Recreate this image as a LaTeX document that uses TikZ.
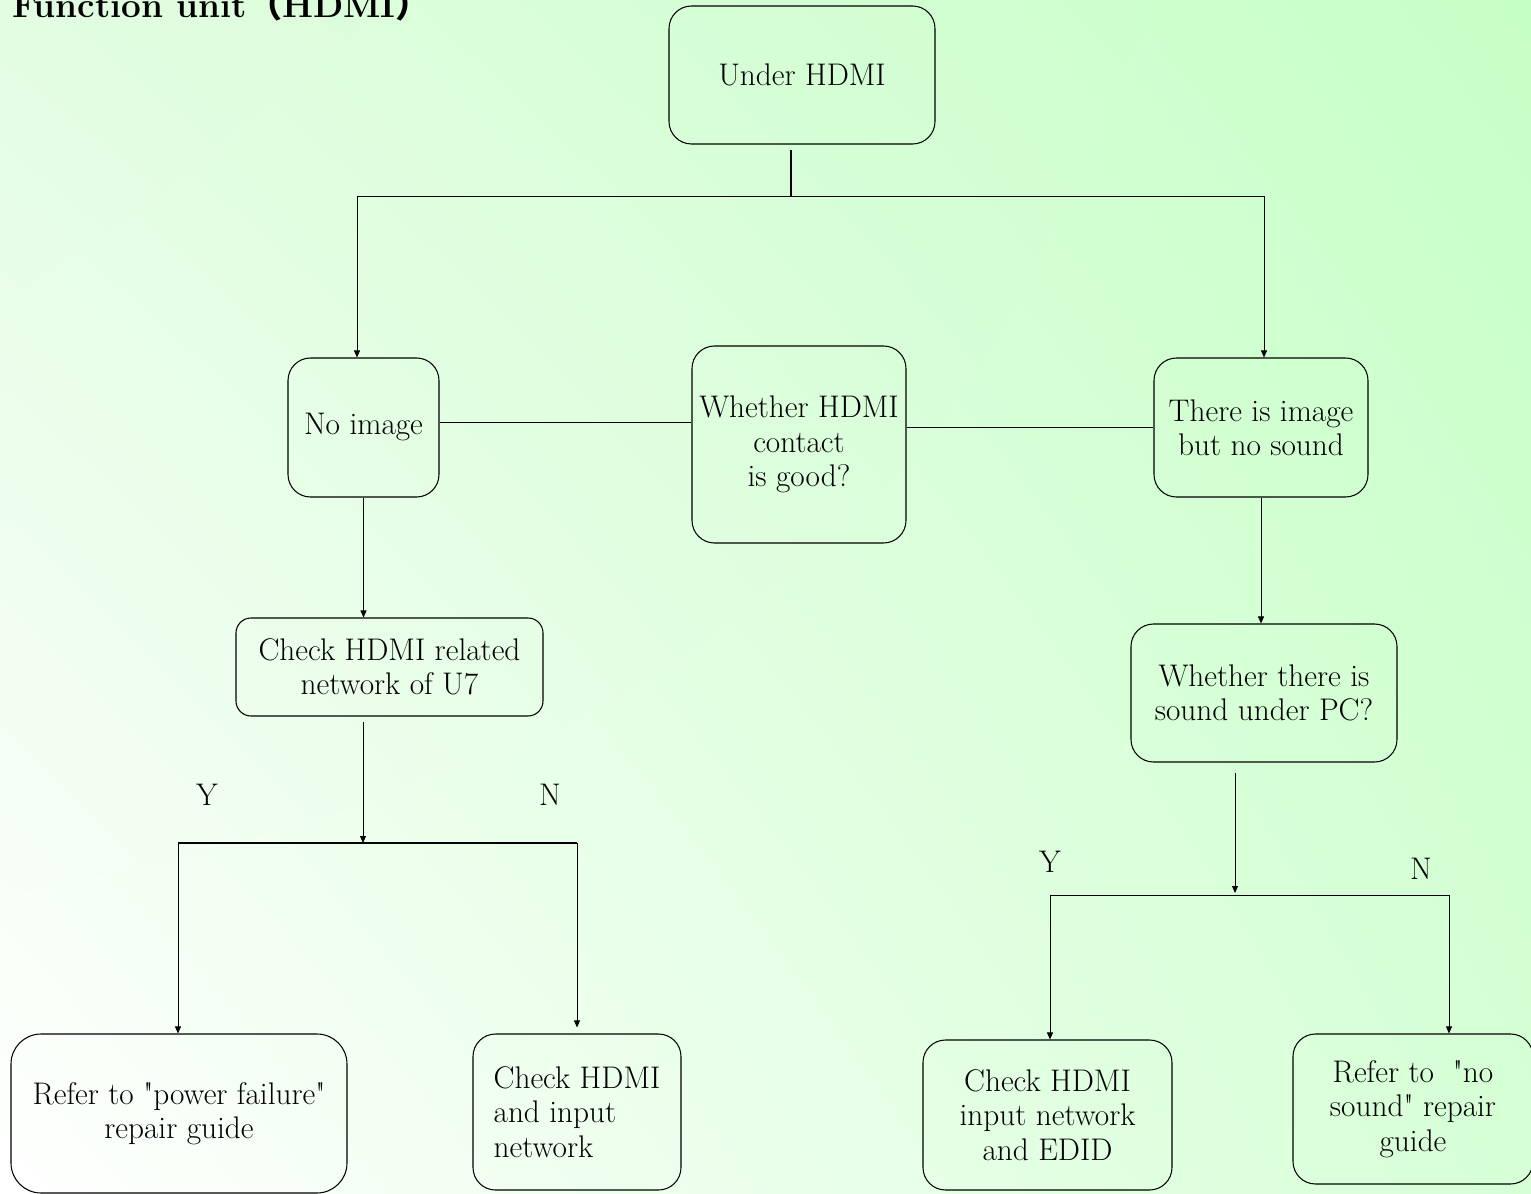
\documentclass[tikz,border=0pt]{standalone}
\usepackage{fontspec}
\newfontfamily\cjk{Noto Sans CJK SC}
\usetikzlibrary{arrows.meta,shadings}
\definecolor{bgtopright}{RGB}{198,255,198}
\definecolor{bgtopleft}{RGB}{226,253,226}
\definecolor{bgbottomright}{RGB}{214,255,214}

\begin{document}
\begin{tikzpicture}[
	box/.style={shape=rectangle, draw, line width=0.6pt, rounded corners=0.45cm, align=center, font=\fontsize{17.8}{19.6}\selectfont},
	wire/.style={line width=0.5pt},
	arrowwire/.style={line width=0.45pt, -{Triangle[length=1.4mm, width=1.2mm]}},
	heavywire/.style={line width=1.1pt},
	yn/.style={font=\fontsize{17.8}{19.6}\selectfont}]
	% Background and title:
	\useasboundingbox (0, 0) rectangle (30.62, -23.88);
	\shade[lower left=white, upper left=bgtopleft, upper right=bgtopright, lower right=bgbottomright] (0, 0) rectangle (30.62, -23.88);
	\node[anchor=base west, inner sep=0pt, font=\bfseries\fontsize{20}{22}\selectfont] (title) at (0.24, -0.36) {Function unit{\cjk （}HDMI{\cjk ）}};
	% Boxes:
	\node[box, minimum width=5.32cm, minimum height=2.76cm] (hdmi) at (16.04, -1.5) {Under HDMI};
	\node[box, minimum width=3.02cm, minimum height=2.78cm] (noimg) at (7.27, -8.55) {No image};
	\node[box, minimum width=4.28cm, minimum height=3.94cm] (contact) at (15.98, -8.89) {Whether HDMI\\contact\\is good?};
	\node[box, minimum width=4.28cm, minimum height=2.78cm] (nosound) at (25.22, -8.55) {There is image\\but no sound};
	\node[box, minimum width=6.14cm, minimum height=1.96cm, rounded corners=0.3cm] (netu7) at (7.79, -13.34) {Check HDMI related\\network of U7};
	\node[box, minimum width=5.32cm, minimum height=2.76cm] (pcsound) at (25.28, -13.86) {Whether there is\\sound under PC?};
	\node[box, minimum width=6.72cm, minimum height=3.18cm, rounded corners=0.6cm] (powerfail) at (3.58, -22.27) {Refer to \textquotedbl power failure\textquotedbl\\repair guide};
	\node[box, minimum width=4.16cm, minimum height=3.12cm, align=left] (inputnet) at (11.54, -22.24) {Check HDMI\\and input\\network};
	\node[box, minimum width=4.98cm, minimum height=3.0cm] (edid) at (20.95, -22.3) {Check HDMI\\input network\\and EDID};
	\node[box, minimum width=4.8cm, minimum height=3.0cm] (soundguide) at (28.26, -22.18) {Refer to\ \ \textquotedbl no\\sound\textquotedbl\ repair\\guide};
	\node[yn] (yleft) at (4.14, -15.9) {Y};
	\node[yn] (nleft) at (11.0, -15.9) {N};
	\node[yn] (yright) at (21.0, -17.24) {Y};
	\node[yn] (nright) at (28.42, -17.38) {N};
	% Wires:
	\coordinate (split) at (15.82, -3.0);
	\coordinate (splitlow) at (15.82, -3.92);
	\coordinate (left) at (7.14, -3.92);
	\coordinate (right) at (25.28, -3.92);
	\draw[heavywire] (split) -- (splitlow);
	\draw[wire] (left) -- (right);
	\draw[arrowwire] (left) -- (left |- noimg.north);
	\draw[arrowwire] (right) -- (right |- nosound.north);
	\draw[heavywire] ([yshift=0.1cm]noimg.east) -- ([yshift=0.1cm]noimg.east -| contact.west);
	\draw[wire] (nosound.west -| contact.east) -- (nosound.west);
	\draw[arrowwire] (noimg.south) -- (noimg.south |- netu7.north);
	\coordinate (u7out) at (7.26, -14.44);
	\coordinate (u7split) at (7.26, -16.86);
	\coordinate (u7left) at (3.56, -16.86);
	\coordinate (u7right) at (11.54, -16.86);
	\draw[arrowwire] (u7out) -- (u7split);
	\draw[heavywire] (u7left) -- (u7right);
	\draw[arrowwire] (u7left) -- (u7left |- powerfail.north);
	\draw[arrowwire] (u7right) -- ([yshift=0.12cm]u7right |- inputnet.north);
	\draw[arrowwire] (nosound.south) -- (nosound.south |- pcsound.north);
	\coordinate (pcout) at (24.7, -15.46);
	\coordinate (pcsplit) at (24.7, -17.86);
	\coordinate (pcleft) at (21.0, -17.9);
	\coordinate (pcright) at (28.98, -17.9);
	\draw[arrowwire] (pcout) -- (pcsplit);
	\draw[wire] (pcleft) -- (pcright);
	\draw[arrowwire] (pcleft) -- (pcleft |- edid.north);
	\draw[arrowwire] (pcright) -- (pcright |- soundguide.north);
\end{tikzpicture}
\end{document}
